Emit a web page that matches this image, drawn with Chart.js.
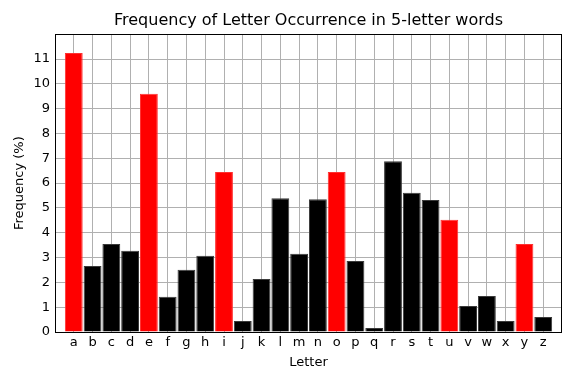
<!DOCTYPE html>
<html>
<head>
<meta charset="utf-8">
<script src="https://cdn.jsdelivr.net/npm/chart.js@4/dist/chart.umd.min.js"></script>
<style>
  html, body { margin: 0; padding: 0; background: #fff; }
  #wrap { width: 576px; height: 384px; }
</style>
</head>
<body>
<div id="wrap"><canvas id="freqChart"></canvas></div>
<script>
// --- DATA ---
const letters = ['a','b','c','d','e','f','g','h','i','j','k','l','m','n','o','p','q','r','s','t','u','v','w','x','y','z'];
const frequency = [11.24, 2.66, 3.55, 3.27, 9.60, 1.42, 2.51, 3.07, 6.45, 0.44, 2.14, 5.39, 3.15,
                   5.35, 6.45, 2.86, 0.16, 6.88, 5.61, 5.32, 4.52, 1.05, 1.45, 0.44, 3.55, 0.60];
const vowels = ['a','e','i','o','u','y'];
const yTicks = [0,1,2,3,4,5,6,7,8,9,10,11];

const FONT = 'DejaVu Sans';

// frame round the plot area + centre the title over the plot, like matplotlib
const frameBox = {
  id: 'frameBox',
  afterLayout(chart) {
    const t = chart.titleBlock, a = chart.chartArea;
    if (t) { t.left = a.left; t.right = a.right; t.width = a.right - a.left; }
  },
  afterDraw(chart) {
    const { ctx, chartArea: a } = chart;
    ctx.save();
    ctx.strokeStyle = '#000';
    ctx.lineWidth = 1;
    ctx.strokeRect(Math.round(a.left) + 0.5, Math.round(a.top) + 0.5,
                   Math.round(a.right - a.left) - 1, Math.round(a.bottom - a.top));
    ctx.restore();
  }
};

new Chart(document.getElementById('freqChart'), {
  type: 'bar',
  data: {
    datasets: [{
      data: letters.map((l, i) => ({ x: i, y: frequency[i] })),
      backgroundColor: letters.map(l => vowels.includes(l) ? '#ff0000' : '#000000'),
      borderColor: letters.map(l => vowels.includes(l) ? '#ff3030' : '#3a3a3a'),
      borderWidth: 1,
      barPercentage: 0.95,
      categoryPercentage: 1.0
    }]
  },
  options: {
    responsive: true,
    maintainAspectRatio: false,
    animation: false,
    layout: { padding: { left: 0, right: 14, top: 0, bottom: 0 } },
    plugins: {
      legend: { display: false },
      tooltip: { enabled: false },
      title: {
        display: true,
        text: 'Frequency of Letter Occurrence in 5-letter words',
        color: '#000',
        font: { family: FONT, size: 16, weight: 'normal' },
        padding: { top: 11, bottom: 4 }
      }
    },
    scales: {
      x: {
        type: 'linear',
        offset: false,
        min: -1, max: 26,
        afterBuildTicks: s => { s.ticks = letters.map((l, i) => ({ value: i })); },
        afterFit: s => { s.height = 52; },
        ticks: {
          color: '#000',
          font: { family: FONT, size: 13 },
          padding: 3,
          maxRotation: 0,
          autoSkip: false,
          callback: v => letters[v] || ''
        },
        grid: { color: '#b0b0b0', lineWidth: 1, drawTicks: false, offset: false },
        border: { display: false },
        title: {
          display: true, text: 'Letter', color: '#000',
          font: { family: FONT, size: 13 }, padding: { top: 14, bottom: 14 }
        }
      },
      y: {
        min: 0, max: 12,
        afterBuildTicks: s => { s.ticks = yTicks.map(v => ({ value: v })); },
        afterFit: s => { s.width = 55; },
        ticks: {
          color: '#000',
          font: { family: FONT, size: 13 },
          padding: 5,
          callback: v => String(v)
        },
        grid: { color: '#b0b0b0', lineWidth: 1, drawTicks: false },
        border: { display: false },
        title: {
          display: true, text: 'Frequency (%)', color: '#000',
          font: { family: FONT, size: 13 }, padding: { top: 12, bottom: 12 }
        }
      }
    }
  },
  plugins: [frameBox]
});
</script>
</body>
</html>
